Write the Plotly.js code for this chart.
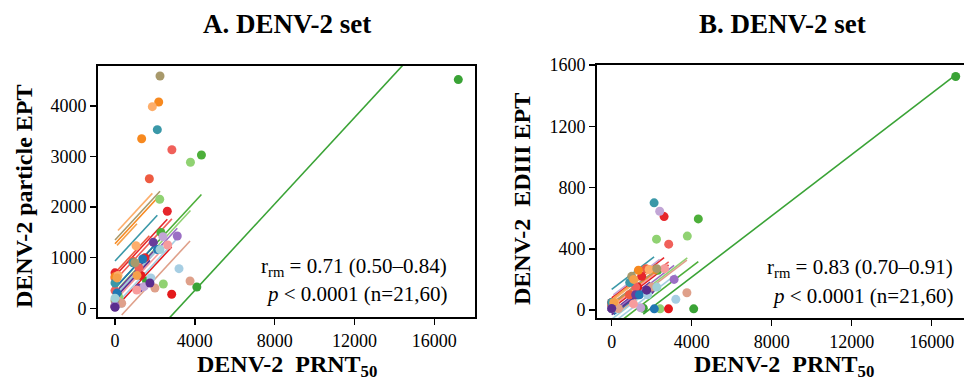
<!DOCTYPE html>
<html>
<head>
<meta charset="utf-8">
<script src="https://cdn.plot.ly/plotly-3.0.1.min.js"></script>
<style>html,body{margin:0;padding:0;overflow:hidden;background:#fff;width:964px;height:383px}</style>
</head>
<body>
<div id="chart" style="width:972px;height:383px"></div>
<script>
// ---- data ----
const subjectColors = ["#3aa336","#4daf3a","#90d272","#e41a1c","#e6262b","#ee5b41","#f0605a",
  "#6a3d9a","#c2a5d6","#f7891f","#fdae6b","#3a98a8","#2077b4","#a6cee3","#f79c9c","#dfa08a",
  "#a8996b","#9b6fc4","#9fd0d8","#f5a04a","#5b2d8e"];
// subject index for every sample
const pointSubject = [0,0,0, 1,1,1, 2,2,2,2, 3,3,3, 4,4,4, 5,5,5, 6,6,6, 7,7,7, 8,8,8,
  9,9,9, 10,10,10, 11,11,11, 12,12,12, 13,13,13, 14,14,14, 15,15,15, 16,16,16, 17,17, 18,18, 19,19, 20,20];
// DENV-2 PRNT50
const prnt50 = [1580,4100,17200, 150,2300,4330, 200,2240,2420,3780, 0,1300,2840, 0,1500,2620,
  0,887,1720, 0,1200,2850, 0,1200,1920, 85,1450,2400, 0,1336,2190, 150,1052,1870, 0,900,2120,
  100,1387,2130, 300,1800,3206, 100,1087,2640, 335,2000,3760, 0,1000,2255, 0,3120, 0,2255, 100,1100, 0,1750];
// DENV-2 particle EPT
const particleEPT = [540,421,4520, 250,1500,3029, 200,2154,480,2885, 40,650,277, 700,1000,1917,
  600,928,2561, 350,800,3134, 32,400,1304, 130,427,1415, 625,3350,4076, 650,1237,3985, 500,900,3530,
  300,974,1160, 100,600,783, 150,362,1251, 100,400,540, 150,900,4590, 50,1428, 200,1160, 600,650, 20,500];
// DENV-2 EDIII EPT
const ediiiEPT = [12,8,1525, 30,260,595, 20,463,8,483, 10,150,8, 50,220,610,
  40,100,270, 20,150,430, 8,100,130, 15,15,645, 20,260,265, 50,200,265, 50,180,700,
  10,100,8, 8,100,70, 20,40,270, 10,150,113, 10,220,270, 10,200, 10,150, 50,200, 10,130];
// repeated-measures correlation fit: common slope, per-subject intercepts
const slopeA = 0.427, slopeB = 0.100;
const interceptA = [-1354,400,320,0,640,700,550,300,250,1275,1472,935,400,50,150,-275,1350,250,250,1200,200];
const interceptB = [-185,-117,-37,10,80,40,30,-10,91,30,60,135,-40,-90,20,-50,40,-20,-60,70,-30];
const tickX = [0,4000,8000,12000,16000];
const tickYA = [0,1000,2000,3000,4000];
const tickYB = [0,400,800,1200,1600];

// ---- layout helpers ----
const W = 972, H = 383;
const fx = p => p / W, fy = p => 1 - p / H;
const serif = "Liberation Serif, Times New Roman, serif";

const traces = [];
function addPanel(yVals, slope, intercepts, xa, ya) {
  subjectColors.forEach((c, s) => {
    const xs = prnt50.filter((_, i) => pointSubject[i] === s);
    const x0 = Math.min(...xs), x1 = Math.max(...xs);
    traces.push({x: [x0, x1], y: [intercepts[s] + slope * x0, intercepts[s] + slope * x1],
      mode: "lines", line: {color: c, width: 1.6}, xaxis: xa, yaxis: ya,
      showlegend: false, hoverinfo: "skip"});
  });
  traces.push({x: prnt50, y: yVals, mode: "markers", xaxis: xa, yaxis: ya, showlegend: false,
    cliponaxis: true,
    marker: {size: 9, color: pointSubject.map(s => subjectColors[s]), line: {width: 0}}});
}
addPanel(particleEPT, slopeA, interceptA, "x", "y");
addPanel(ediiiEPT, slopeB, interceptB, "x2", "y2");

const axBase = {showline: true, linewidth: 2, linecolor: "#000", mirror: true, ticks: "outside",
  ticklen: 6, tickwidth: 1.5, tickcolor: "#000", showgrid: false, zeroline: false,
  tickfont: {family: serif, size: 18, color: "#000"}, tickmode: "array", fixedrange: true};

const ann = (text, x, y, opts = {}) => Object.assign({text, x: fx(x), y: fy(y), xref: "paper",
  yref: "paper", showarrow: false, xanchor: "center", yanchor: "middle",
  font: {family: serif, size: 21, color: "#000"}}, opts);

const layout = {
  width: W, height: H, margin: {l: 0, r: 0, t: 0, b: 0}, paper_bgcolor: "#fff", plot_bgcolor: "#fff",
  xaxis: Object.assign({}, axBase, {domain: [fx(98), fx(475)], range: [-852, 18036], tickvals: tickX,
    ticktext: tickX.map(String), anchor: "y"}),
  yaxis: Object.assign({}, axBase, {domain: [fy(317), fy(66)], range: [-172, 4788], tickvals: tickYA,
    ticktext: tickYA.map(String), anchor: "x"}),
  xaxis2: Object.assign({}, axBase, {domain: [fx(597), fx(968)], range: [-735, 17815], tickvals: tickX,
    ticktext: tickX.map(String), anchor: "y2"}),
  yaxis2: Object.assign({}, axBase, {domain: [fy(318), fy(65)], range: [-52, 1600], tickvals: tickYB,
    ticktext: tickYB.map(String), anchor: "x2"}),
  annotations: [
    ann("<b>A. DENV-2 set</b>", 287, 24, {font: {family: serif, size: 27, color: "#000"}}),
    ann("<b>B. DENV-2 set</b>", 782, 24, {font: {family: serif, size: 27, color: "#000"}}),
    ann("<b>DENV-2\u00a0 PRNT<sub>50</sub></b>", 287, 366, {font: {family: serif, size: 24, color: "#000"}}),
    ann("<b>DENV-2\u00a0 PRNT<sub>50</sub></b>", 784, 366, {font: {family: serif, size: 24, color: "#000"}}),
    ann("<b>DENV-2 particle EPT</b>", 24, 196, {textangle: -90, font: {family: serif, size: 24, color: "#000"}}),
    ann("<b>DENV-2\u00a0 EDIII EPT</b>", 522, 199, {textangle: -90, font: {family: serif, size: 24, color: "#000"}}),
    ann("r<sub>rm</sub> = 0.71 (0.50–0.84)", 449, 267, {xanchor: "right"}),
    ann("<i>p</i> < 0.0001 (n=21,60)", 449, 294, {xanchor: "right"}),
    ann("r<sub>rm</sub> = 0.83 (0.70–0.91)", 955, 268, {xanchor: "right"}),
    ann("<i>p</i> < 0.0001 (n=21,60)", 955, 296, {xanchor: "right"})
  ]
};
Plotly.newPlot("chart", traces, layout, {displayModeBar: false, staticPlot: true});
</script>
</body>
</html>
